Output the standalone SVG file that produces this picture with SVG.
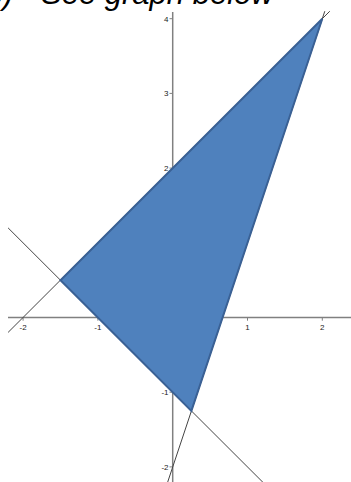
<svg xmlns="http://www.w3.org/2000/svg" width="351" height="482" viewBox="0 0 351 482">
<style>
.title{font-family:"Liberation Sans",Arial,sans-serif;font-style:italic;font-size:31px;fill:#000}
.axis{stroke:#808080;stroke-width:1.5;fill:none}
.tick{stroke:#808080;stroke-width:1;fill:none}
.lbl{font-family:"Liberation Sans",Arial,sans-serif;font-size:8px;fill:#222}
.line{stroke:#444;stroke-width:1;fill:none}
.tri{fill:#4f81bd;stroke:#3a6195;stroke-width:2;stroke-linejoin:miter}
</style>
<rect width="351" height="482" fill="#fff"/>
<g id="title">
<text class="title" y="4"><tspan x="13" text-anchor="end">c)</tspan><tspan x="41">See graph below</tspan></text>
</g>
<g id="axes">
<line class="axis" x1="172.7" y1="12" x2="172.7" y2="482"/>
<line class="axis" x1="8" y1="317.5" x2="351" y2="317.5"/>
<g class="tick">
<line x1="169.5" y1="18.7" x2="172.7" y2="18.7"/>
<line x1="169.5" y1="93.4" x2="172.7" y2="93.4"/>
<line x1="169.5" y1="168.1" x2="172.7" y2="168.1"/>
<line x1="169.5" y1="392.2" x2="172.7" y2="392.2"/>
<line x1="169.5" y1="466.9" x2="172.7" y2="466.9"/>
<line x1="23.1" y1="317.5" x2="23.1" y2="320.7"/>
<line x1="97.9" y1="317.5" x2="97.9" y2="320.7"/>
<line x1="247.5" y1="317.5" x2="247.5" y2="320.7"/>
<line x1="322.3" y1="317.5" x2="322.3" y2="320.7"/>
</g>
<g class="lbl" text-anchor="end">
<text x="168.5" y="21.5">4</text>
<text x="168.5" y="96.2">3</text>
<text x="168.5" y="170.9">2</text>
<text x="168.5" y="395">-1</text>
<text x="168.5" y="469.7">-2</text>
</g>
<g class="lbl" text-anchor="middle">
<text x="23.1" y="329.5">-2</text>
<text x="97.9" y="329.5">-1</text>
<text x="247.5" y="329.5">1</text>
<text x="322.3" y="329.5">2</text>
</g>
</g>
<g id="connectors">
<line class="line" x1="8.1" y1="332.4" x2="329.8" y2="11.2"/>
<line class="line" x1="8.1" y1="227.9" x2="266.2" y2="485.6"/>
<line class="line" x1="324.8" y1="11.2" x2="166.5" y2="485.6"/>
</g>
<g id="triangle">
<polygon class="tri" points="322.3,18.7 60.5,280.2 191.4,410.9"/>
</g>
</svg>
